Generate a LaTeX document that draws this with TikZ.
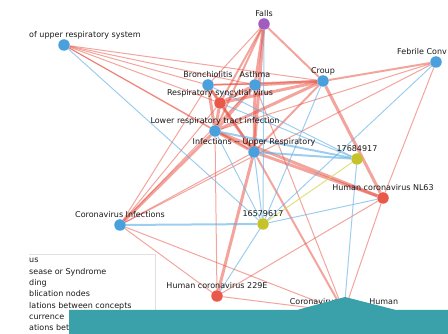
\documentclass[tikz,border=0pt]{standalone}
\usepackage{fontspec}
\setmainfont{DejaVu Sans}
\usepackage{tikz}
\usetikzlibrary{positioning}

\definecolor{cblue}{HTML}{4A9FDD}
\definecolor{cred}{HTML}{E8594A}
\definecolor{cpurple}{HTML}{A05CBE}
\definecolor{colive}{HTML}{C4C42A}
\definecolor{ered}{HTML}{E74C3C}
\definecolor{eblue}{HTML}{5DADE2}
\definecolor{eyellow}{HTML}{D8D860}
\definecolor{barteal}{HTML}{3AA0A9}

\pgfdeclarelayer{edges}
\pgfsetlayers{edges,main}

\tikzset{
	concept/.style={circle, minimum size=11.5pt, inner sep=0pt, fill=#1},
	lbl/.style={font=\fontsize{8}{9}\selectfont, text=black!90, inner sep=0.5pt, text height=6pt, text depth=2pt},
	legend/.style={font=\fontsize{8}{9}\selectfont, text=black!90, inner sep=0pt, anchor=base west},
	rthick/.style={draw=ered, draw opacity=0.5, line width=3pt},
	rmid/.style={draw=ered, draw opacity=0.5, line width=2pt},
	rthin/.style={draw=ered, draw opacity=0.5, line width=1pt},
	bthick/.style={draw=eblue, draw opacity=0.6, line width=2pt},
	bthin/.style={draw=eblue, draw opacity=0.6, line width=1pt},
	ylink/.style={draw=eyellow, draw opacity=0.8, line width=1pt},
	every label/.style={lbl},
	label distance=-1pt
}

\begin{document}
\begin{tikzpicture}[x=1pt, y=-1pt]
	\useasboundingbox (0,0) rectangle (448,334);

	% concepts
	\node[concept=cpurple, label=above:Falls] (F) at (264,24) {};
	\node[concept=cblue] (D) at (64,45) {};
	\node[legend] (Dl) at (29,38) {of upper respiratory system};
	\node[concept=cblue] (FC) at (436,62) {};
	\node[legend] (FCl) at (397,55) {Febrile Conv};
	\node[concept=cblue, label=above:Bronchiolitis] (B) at (208,85) {};
	\node[concept=cblue, label=above:Asthma] (A) at (255,85) {};
	\node[concept=cblue, label=above:Croup] (C) at (323,81) {};
	\node[concept=cred, label=above:Respiratory syncytial virus] (R) at (220,103) {};
	\node[concept=cblue, label=above:Lower respiratory tract infection] (L) at (215,131) {};
	\node[concept=cblue, label=above:Infections -{}- Upper Respiratory] (U) at (254,152) {};
	\node[concept=cred, label=above:Human coronavirus NL63] (N) at (383,198) {};
	\node[concept=cblue, label=above:Coronavirus Infections] (CI) at (120,225) {};
	\node[concept=cred, label=above:Human coronavirus 229E] (E) at (217,296) {};
	\node[concept=cred, label={above:Coronavirus,\hspace{29pt}Human}] (H) at (344,312) {};
	% publications
	\node[concept=colive, label=above:17684917] (P1) at (357,159) {};
	\node[concept=colive, label=above:16579617] (P2) at (263,224) {};

	\begin{pgfonlayer}{edges}
	\foreach \a/\b in {F/A, F/U, A/R, A/L, A/U, A/C, B/R, B/L, R/L, R/U, L/U, C/R, C/L, L/N, U/N, C/N, U/E, CI/L}
		\draw[rthick] (\a) -- (\b);
	\foreach \a/\b in {F/C, F/L, F/R, B/C, B/U, C/FC, C/U, U/H}
		\draw[rmid] (\a) -- (\b);
	\foreach \a/\b in {D/C, D/A, D/B, D/R, D/L, D/U, F/B, A/B, CI/B, CI/R, CI/A, CI/U, CI/E, CI/H, CI/FC, FC/N, FC/L, N/E, N/H, E/L, E/H, A/H}
		\draw[rthin] (\a) -- (\b);
	\foreach \a/\b in {U/P1, L/P1, CI/P2}
		\draw[bthick] (\a) -- (\b);
	\foreach \a/\b in {D/P2, F/P2, U/P2, L/P2, C/P2, FC/P2, B/P1, R/P1, E/P2, N/P2, P1/H}
		\draw[bthin] (\a) -- (\b);
	\draw[ylink] (P1) -- (P2);
	\end{pgfonlayer}

	% legend (cut off)
	\draw[black!12] (29,254) -| (155,334);
	\node[legend] (lg1) at (29,263) {us};
	\node[legend] (lg2) at (29,274.3) {sease or Syndrome};
	\node[legend] (lg3) at (29,285.6) {ding};
	\node[legend] (lg4) at (29,296.9) {blication nodes};
	\node[legend] (lg5) at (29,308.2) {lations between concepts};
	\node[legend] (lg6) at (29,319.5) {currence};
	\node[legend] (lg7) at (29,330.8) {ations bet};

	% bar over the bottom
	\fill[barteal] (69,310) -- (297,310) -- (345,297) -- (396,310) -- (448,310) -- (448,334) -- (69,334) -- cycle;
\end{tikzpicture}
\end{document}
